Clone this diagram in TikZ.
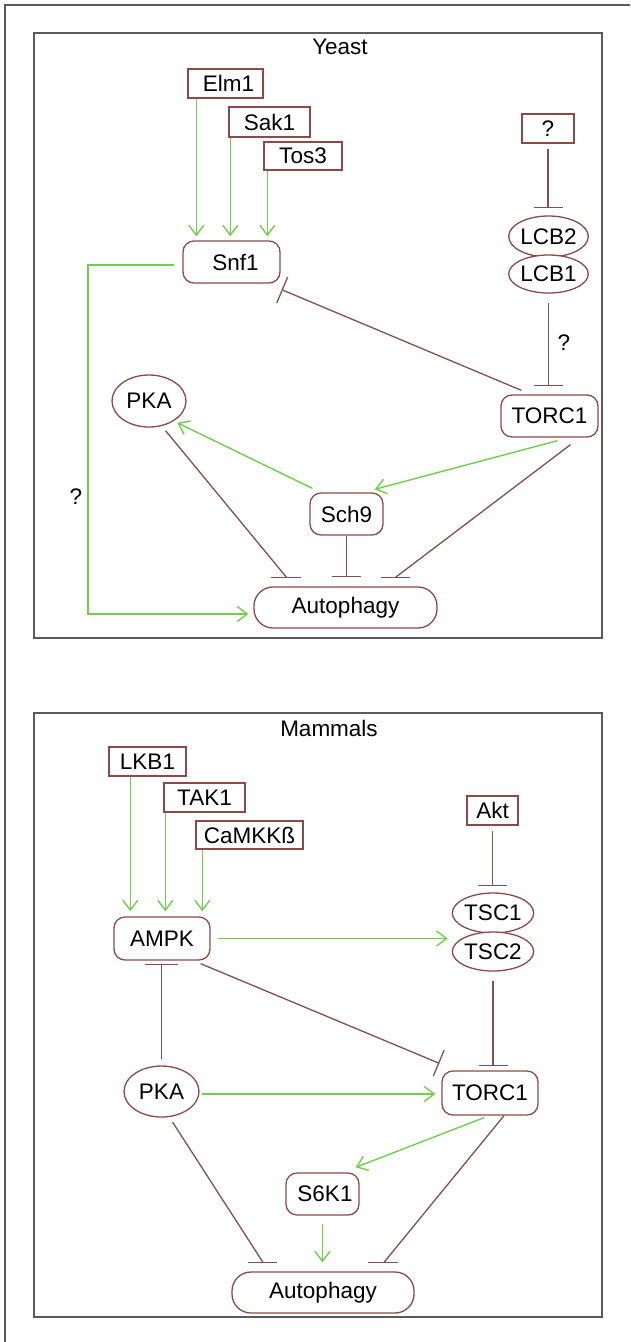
\documentclass[tikz,border=0pt]{standalone}
\usepackage{fontspec}
\setmainfont{Liberation Sans}
\usetikzlibrary{shapes.geometric,arrows.meta,calc}
\definecolor{brd}{HTML}{8A4A4A}
\definecolor{inhc}{HTML}{7E5050}
\definecolor{actc}{HTML}{72CC4E}
\definecolor{frm}{HTML}{5A5A5A}
\begin{document}
\begin{tikzpicture}[x=1pt,y=-1pt,
 every node/.style={font=\fontsize{22.5}{26}\selectfont, inner sep=0pt},
 sq/.style={draw=brd, line width=1.3pt, fill=white, rectangle},
 rnd/.style={draw=brd, line width=1.3pt, fill=white, rectangle, rounded corners=11pt},
 ell/.style={draw=brd, line width=1.3pt, fill=white, ellipse},
 act/.style={draw=actc, line width=1.4pt, -{Straight Barb[length=10pt,width=15pt,line width=1.4pt]}},
 inh/.style={draw=inhc, line width=1.3pt, -{Bar[width=29pt,line width=1.3pt]}},
 inl/.style={draw=inhc, line width=1.3pt},
 frame/.style={draw=frm, line width=1.6pt},
]
\useasboundingbox (0,0) rectangle (630,1342);
\draw[frame] (5,1342) -- (5,5) -- (630,5);

% ---------------- Yeast ----------------
\draw[frame] (34,33) rectangle (602,638);
\node (ytitle) at (340,47) {Yeast};
\node[sq, minimum width=75pt, minimum height=29pt] (elm1) at (225.5,83.5) {\hspace*{6pt}Elm1};
\node[sq, minimum width=81pt, minimum height=30pt] (sak1) at (269.5,122) {Sak1};
\node[sq, minimum width=78pt, minimum height=28pt] (tos3) at (303,156) {Tos3};
\node[rnd, minimum width=97pt, minimum height=42pt] (snf1) at (231.5,262) {\hspace*{8pt}Snf1};
\node[sq, minimum width=52pt, minimum height=29pt] (q) at (548,128.5) {?};
\node[ell, minimum width=75pt, minimum height=41pt] (lcb2) at (548.5,236.5) {LCB2};
\node[ell, minimum width=75pt, minimum height=38pt] (lcb1) at (548.5,274) {LCB1};
\node[rnd, minimum width=97pt, minimum height=42pt] (torc1) at (549.5,416) {TORC1};
\node[ell, minimum width=74pt, minimum height=52pt] (pka) at (149,401) {PKA};
\node[rnd, minimum width=73pt, minimum height=42pt] (sch9) at (346.5,514) {Sch9};
\node[rnd, rounded corners=19pt, minimum width=183pt, minimum height=41pt] (auto) at (345.5,607.5) {Autophagy};
\node (q2) at (564,343) {?};
\node (q3) at (76,497) {?};

\draw[act, shorten >=4pt] ($(elm1.south west)+(9,0)$) -- ($(elm1.south west |- snf1.north)+(9,0)$);
\draw[act, shorten >=4pt] ($(sak1.south west)+(2,0)$) -- ($(sak1.south west |- snf1.north)+(2,0)$);
\draw[act, shorten >=4pt] ($(tos3.south west)+(4,0)$) -- ($(tos3.south west |- snf1.north)+(4,0)$);
\draw[inh, shorten <=5pt, shorten >=7pt] (q.south) -- (q.south |- lcb2.north);
\draw[inh, shorten <=9pt, shorten >=8pt] (lcb1.south) -- (lcb1.south |- torc1.north);
\draw[inh, -{Bar[width=28pt,line width=1.3pt]}] ($(torc1.north west)+(21,-4)$) -- ($(snf1.south east)+(1,6)$);
\draw[act] ($(torc1.south)+(8,3)$) -- ($(sch9.north east)+(-9,-3)$);
\draw[act, shorten >=4pt] ($(sch9.north west)+(3,-4)$) -- (pka.-39);
\coordinate (ya1) at ($(auto.north)+(-59,-9)$);
\coordinate (ya3) at ($(auto.north)+(50,-9)$);
\draw[inl, shorten <=6pt] (pka.-63) -- (ya1);
\draw[inl] ($(ya1)+(-16,0)$) -- ($(ya1)+(14,0)$);
\draw[inh, shorten >=9pt] (sch9.south) -- (sch9.south |- auto.north);
\draw[inl] ($(torc1.south)+(21,7)$) -- (ya3);
\draw[inl] ($(ya3)+(-15,0)$) -- ($(ya3)+(14,0)$);
\coordinate (yc) at (88,614);
\draw[act] ($(snf1.west)+(-8,3)$) -| (yc) -- ($(auto.west)+(-5,6.5)$);

% ---------------- Mammals ----------------
\draw[frame] (34,713) rectangle (602,1317);
\node (mtitle) at (329,728) {Mammals};
\node[sq, minimum width=77pt, minimum height=29pt] (lkb1) at (147.5,761.5) {LKB1};
\node[sq, minimum width=81pt, minimum height=29pt] (tak1) at (204.5,797.5) {TAK1};
\node[sq, minimum width=107pt, minimum height=28pt] (camkk) at (249.5,835) {CaMKKß};
\node[sq, minimum width=51pt, minimum height=29pt] (akt) at (492.5,810.5) {Akt};
\node[rnd, minimum width=96pt, minimum height=43pt] (ampk) at (162,938.5) {AMPK};
\node[ell, minimum width=74pt, minimum height=40pt] (tsc1) at (493,913) {TSC1};
\node[ell, minimum width=74pt, minimum height=39pt] (tsc2) at (493,951.5) {TSC2};
\node[ell, minimum width=75pt, minimum height=51pt] (pka2) at (161.5,1091.5) {PKA};
\node[rnd, minimum width=96pt, minimum height=44pt] (torc2) at (490,1093) {TORC1};
\node[rnd, minimum width=73pt, minimum height=42pt] (s6k1) at (322.5,1194) {\hspace*{5pt}S6K1};
\node[rnd, rounded corners=19pt, minimum width=182pt, minimum height=41pt] (auto2) at (323,1292.5) {Autophagy};

\draw[act, shorten >=5pt] ($(lkb1.south west)+(22,0)$) -- ($(lkb1.south west |- ampk.north)+(22,0)$);
\draw[act, shorten >=5pt] ($(tak1.south west)+(2,0)$) -- ($(tak1.south west |- ampk.north)+(2,0)$);
\draw[act, shorten >=5pt] ($(camkk.south west)+(7,0)$) -- ($(camkk.south west |- ampk.north)+(7,0)$);
\draw[inh, shorten <=5pt, shorten >=6pt] (akt.south) -- (akt.south |- tsc1.north);
\draw[act, shorten <=7pt, shorten >=4pt] (ampk.east) -- (ampk.east -| tsc2.west);
\draw[inh, -{Bar[width=33pt,line width=1.3pt]}, shorten <=6pt, shorten >=3pt] (pka2.north) -- (pka2.north |- ampk.south);
\draw[inh, -{Bar[width=28pt,line width=1.3pt]}] ($(ampk.south east)+(-10,3)$) -- ($(torc2.north west)+(-2,-7)$);
\draw[inh, shorten <=9pt, shorten >=4pt] (tsc2.south) -- (tsc2.south |- torc2.north);
\draw[act, shorten <=2pt, shorten >=6pt] ($(pka2.east)+(0,2.5)$) -- ($(pka2.east -| torc2.west)+(0,2.5)$);
\draw[act] ($(torc2.south)+(-6,2)$) -- ($(s6k1.north east)+(-4,-5)$);
\draw[act, shorten <=8pt, shorten >=9pt] (s6k1.south) -- (s6k1.south |- auto2.north);
\coordinate (ma1) at ($(auto2.north)+(-60,-9)$);
\coordinate (ma3) at ($(auto2.north)+(61,-9)$);
\draw[inl, shorten <=6pt] (pka2.-73) -- (ma1);
\draw[inl] ($(ma1)+(-15,0)$) -- ($(ma1)+(14,0)$);
\draw[inl] ($(torc2.south)+(14,0)$) -- (ma3);
\draw[inl] ($(ma3)+(-16,0)$) -- ($(ma3)+(14,0)$);
\end{tikzpicture}
\end{document}
